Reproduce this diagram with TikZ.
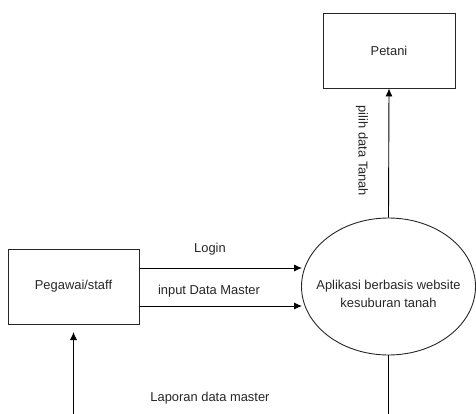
\documentclass[tikz,border=0pt]{standalone}
\usepackage{fontspec}
\setmainfont{Liberation Sans}
\usetikzlibrary{shapes.geometric,arrows.meta}
\begin{document}
\begin{tikzpicture}[x=1pt,y=-1pt,
  every node/.style={font=\fontsize{12.9}{18}\selectfont, text=black!85},
  boxnode/.style={draw=black!85, line width=0.9pt, rectangle, inner sep=0pt},
  procnode/.style={draw=black!85, line width=0.9pt, ellipse, inner sep=0pt, minimum width=174pt, minimum height=137pt},
  flow/.style={draw=black, line width=0.9pt, -{Latex[length=8pt,width=7pt]}},
  plain/.style={draw=black, line width=0.9pt}
]
\useasboundingbox (0,0) rectangle (476,414);
\clip (0,0) rectangle (476,414);
\node[boxnode, minimum width=132pt, minimum height=75pt] (petani) at (389,50.5) {Petani};
\node[boxnode, minimum width=131pt, minimum height=75pt] (pegawai) at (73.5,286.5) {Pegawai/staff};
\node[procnode, label={[yshift=-7pt, align=center, font=\fontsize{12.9}{18}\selectfont]center:Aplikasi berbasis website\\kesuburan tanah}] (app) at (388.5,286.5) {};
% flows
\coordinate (loginEnd) at (302,268);
\coordinate (inputEnd) at (302,306);
\draw[flow] (pegawai.east |- loginEnd) -- (loginEnd);
\draw[flow] (pegawai.east |- inputEnd) -- (inputEnd);
\node (loginlbl) at (210,249) {Login};
\node (inputlbl) at (209,291) {input Data Master};
\draw[flow] (app.north) -- (petani.south);
\node[rotate=-90] (pilihlbl) at (362,151) {pilih data Tanah};
\coordinate (repEnd) at (73.5,332);
\coordinate (repA) at (388.5,440);
\coordinate (repB) at (73.5,440);
\draw[plain] (app.south) -- (repA) -- (repB);
\draw[flow] (repB) -- (repEnd);
\node (laporlbl) at (210,398) {Laporan data master};
\end{tikzpicture}
\end{document}
